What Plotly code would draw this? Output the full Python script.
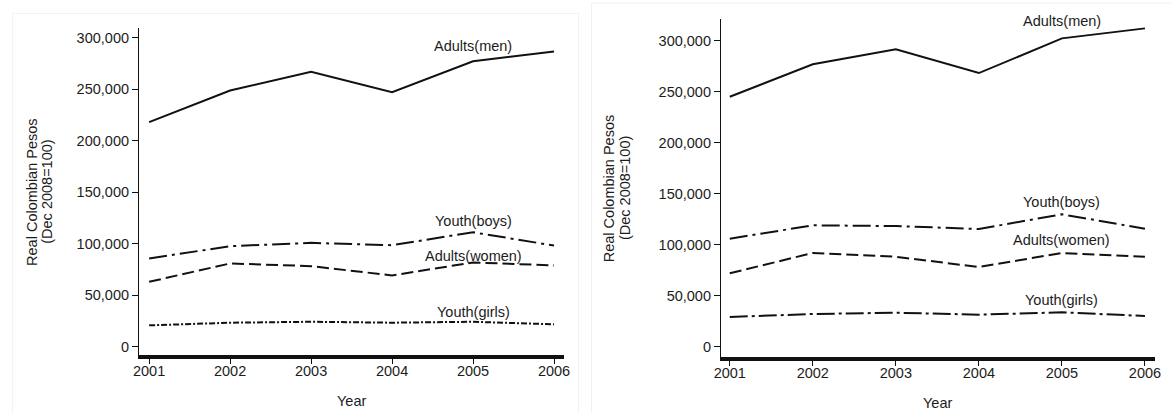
import plotly.graph_objects as go

W, H = 1171, 413

years = [2001, 2002, 2003, 2004, 2005, 2006]

# Panel A
a_men = [218000, 248700, 266900, 247100, 277100, 286500]
a_boys = [85600, 97600, 100800, 98500, 111100, 98200]
a_women = [63000, 80800, 78200, 69200, 81800, 78900]
a_girls = [20700, 23300, 24200, 23300, 24200, 21700]

# Panel B
b_men = [245100, 276900, 291500, 268300, 302300, 312100]
b_boys = [105900, 119000, 118300, 115400, 129800, 115700]
b_women = [72000, 91900, 88200, 78100, 91900, 88200]
b_girls = [29100, 32100, 33300, 31400, 33700, 30100]

series_names = ["Adults(men)", "Youth(boys)", "Adults(women)", "Youth(girls)"]
label_x = 2005
a_label_y = [292300, 122100, 88200, 33900]
b_label_y = [319300, 141600, 104600, 45800]

y_ticks = [0, 50000, 100000, 150000, 200000, 250000, 300000]
y_ticktext = ["0", "50,000", "100,000", "150,000", "200,000", "250,000", "300,000"]
y_title = ["Real Colombian Pesos", "(Dec 2008=100)"]
x_title = "Year"

FONT = "Liberation Sans, Arial, sans-serif"
INK = "#111111"
TXT = "#1c1c1c"
FS = 14.5


def px_x(p):
    return p / W


def px_y(p):
    return 1 - p / H


fig = go.Figure()

dash_a = ["solid", "18px,5px,3px,5px", "12px,5px", "6px,2px,2px,2px"]
dash_b = ["solid", "18px,5px,3px,5px", "12px,5px", "18px,4px,3px,4px"]

for vals, dash in zip([a_men, a_boys, a_women, a_girls], dash_a):
    fig.add_trace(go.Scatter(x=years, y=vals, mode="lines", xaxis="x", yaxis="y",
                             line=dict(color=INK, width=2, dash=dash), showlegend=False))
for vals, dash in zip([b_men, b_boys, b_women, b_girls], dash_b):
    fig.add_trace(go.Scatter(x=years, y=vals, mode="lines", xaxis="x2", yaxis="y2",
                             line=dict(color=INK, width=2, dash=dash), showlegend=False))

annotations = []
for name, yv in zip(series_names, a_label_y):
    annotations.append(dict(x=label_x, y=yv, xref="x", yref="y", text=name, showarrow=False,
                            xanchor="center", yanchor="middle",
                            font=dict(family=FONT, size=FS, color=TXT)))
for name, yv in zip(series_names, b_label_y):
    annotations.append(dict(x=label_x, y=yv, xref="x2", yref="y2", text=name, showarrow=False,
                            xanchor="center", yanchor="middle",
                            font=dict(family=FONT, size=FS, color=TXT)))

# axis titles placed in pixel positions
for (x1, x2, yc) in [(24.5, 40.5, 191.7), (609.0, 625.0, 188.0)]:
    for xp, txt in zip([x1, x2], y_title):
        annotations.append(dict(x=px_x(xp), y=px_y(yc), xref="paper", yref="paper", text=txt,
                                showarrow=False, textangle=-90, xanchor="center", yanchor="middle",
                                font=dict(family=FONT, size=FS, color=TXT)))
for xp, yp in [(348, 401), (940.6, 403.3)]:
    annotations.append(dict(x=px_x(xp), y=px_y(yp), xref="paper", yref="paper", text=x_title,
                            showarrow=False, xanchor="center", yanchor="middle",
                            font=dict(family=FONT, size=FS, color=TXT)))

xaxis_common = dict(tickmode="array", tickvals=years, ticktext=[str(y) for y in years],
                    showgrid=False, zeroline=False, showline=True, linecolor=INK, linewidth=4,
                    ticks="outside", ticklen=5, tickwidth=1, tickcolor=INK,
                    ticklabelstandoff=-5,
                    tickfont=dict(family=FONT, size=FS, color=TXT))
yaxis_common = dict(tickmode="array", tickvals=y_ticks, ticktext=y_ticktext,
                    showgrid=False, zeroline=False, showline=True, linecolor=INK, linewidth=1,
                    ticks="outside", ticklen=6, tickwidth=1, tickcolor=INK,
                    tickfont=dict(family=FONT, size=FS, color=TXT))

# faint panel frames
shapes = [
    dict(type="rect", xref="paper", yref="paper", x0=px_x(5.7), x1=px_x(578), y0=px_y(420), y1=px_y(13.3),
         line=dict(color="#f0f2f2", width=1)),
    dict(type="rect", xref="paper", yref="paper", x0=px_x(591), x1=px_x(1180), y0=px_y(420), y1=px_y(3),
         line=dict(color="#f0f2f2", width=1)),
]

fig.update_layout(
    width=W, height=H,
    margin=dict(l=0, r=0, t=0, b=0),
    paper_bgcolor="white", plot_bgcolor="white",
    xaxis=dict(domain=[px_x(133.4), px_x(563)], range=[2000.874, 2006.12], anchor="y", **xaxis_common),
    yaxis=dict(domain=[px_y(355), px_y(28.3)], range=[-8060, 309100], anchor="x", **yaxis_common),
    xaxis2=dict(domain=[px_x(721.9), px_x(1160.8)], range=[2000.893, 2006.12], anchor="y2", **xaxis_common),
    yaxis2=dict(domain=[px_y(356.5), px_y(19.3)], range=[-9600, 321000], anchor="x2", **yaxis_common),
    annotations=annotations,
    shapes=shapes,
    showlegend=False,
)

fig.write_html("out.html")
